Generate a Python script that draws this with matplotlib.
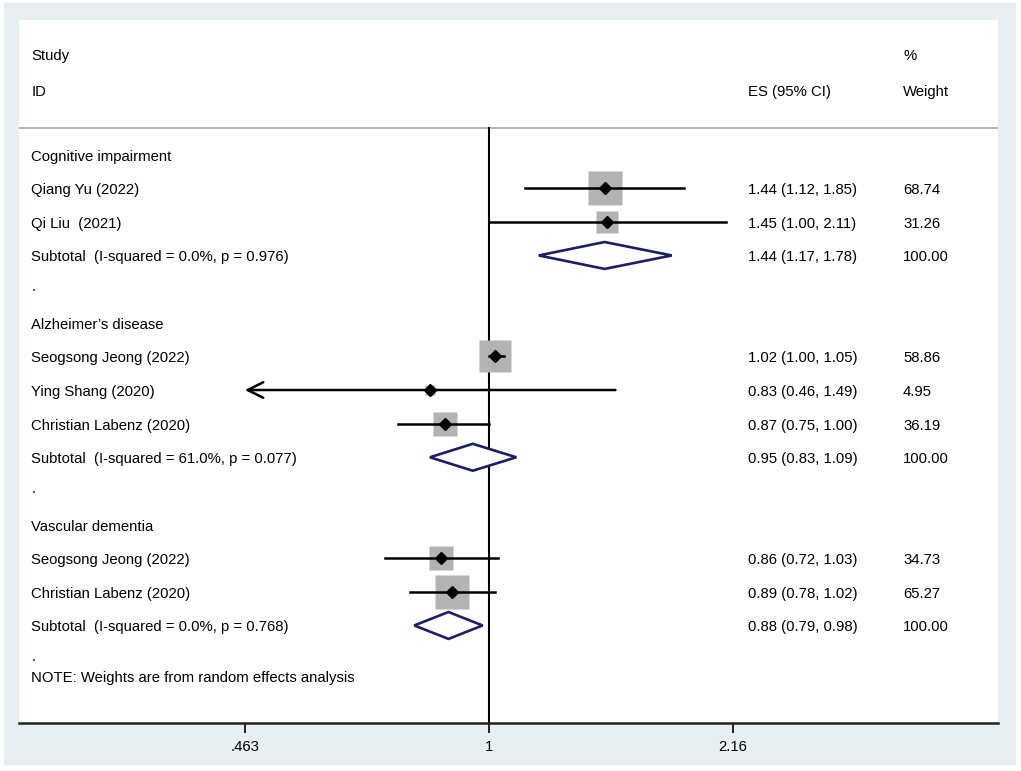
import numpy as np
import matplotlib
matplotlib.use("Agg")
import matplotlib.pyplot as plt
from matplotlib.patches import Polygon, Rectangle

plt.rcParams['font.family'] = ['Liberation Sans', 'DejaVu Sans']

# rows of the forest plot (top to bottom)
labels = ["Cognitive impairment", "Qiang Yu (2022)", "Qi Liu  (2021)",
          "Subtotal  (I-squared = 0.0%, p = 0.976)", ".",
          "Alzheimer\u2019s disease", "Seogsong Jeong (2022)", "Ying Shang (2020)",
          "Christian Labenz (2020)", "Subtotal  (I-squared = 61.0%, p = 0.077)", ".",
          "Vascular dementia", "Seogsong Jeong (2022)", "Christian Labenz (2020)",
          "Subtotal  (I-squared = 0.0%, p = 0.768)", "."]
# kind: h = group header, s = study, t = subtotal, b = blank
kinds = ["h", "s", "s", "t", "b", "h", "s", "s", "s", "t", "b", "h", "s", "s", "t", "b"]
es = [None, 1.44, 1.45, 1.44, None, None, 1.02, 0.83, 0.87, 0.95, None, None, 0.86, 0.89, 0.88, None]
lo = [None, 1.12, 1.00, 1.17, None, None, 1.00, 0.46, 0.75, 0.83, None, None, 0.72, 0.78, 0.79, None]
hi = [None, 1.85, 2.11, 1.78, None, None, 1.05, 1.49, 1.00, 1.09, None, None, 1.03, 1.02, 0.98, None]
weights = [None, 68.74, 31.26, 100.00, None, None, 58.86, 4.95, 36.19, 100.00, None, None, 34.73, 65.27, 100.00, None]

xticks = [0.463, 1, 2.16]
xticklabels = [".463", "1", "2.16"]
note = "NOTE: Weights are from random effects analysis"

fig = plt.figure(figsize=(10.21, 7.71), dpi=100)
fig.patch.set_facecolor("white")
W, H = 1021, 771
# outer light panel
fig.patches.append(Rectangle((4 / W, 1 - 765 / H), 1012 / W, 762 / H,
                             transform=fig.transFigure, facecolor="#e8eff1",
                             edgecolor="none", zorder=-10))

ax = fig.add_axes([19 / W, 1 - 723 / H, 979 / W, 703 / H])
ax.set_zorder(5)
ax.set_facecolor("white")
ax.set_xscale("log")
xmin, xmax = np.exp((19 - 489) / 317.0), np.exp((998 - 489) / 317.0)
ax.set_xlim(xmin, xmax)
ytop, ybot = -4.0, 16.9
ax.set_ylim(ybot, ytop)

fs = 10.7
x_lab = 0.0127
x_es = (748 - 19) / 979
x_w = (903 - 19) / 979
tr = ax.get_yaxis_transform()
dy = 0.06  # small downward nudge of text centres

# header
ax.text(x_lab, -2.98 + dy, "Study", transform=tr, fontsize=fs, va="center")
ax.text(x_lab, -1.93 + dy, "ID", transform=tr, fontsize=fs, va="center")
ax.text(x_es, -1.93 + dy, "ES (95% CI)", transform=tr, fontsize=fs, va="center")
ax.text(x_w, -2.98 + dy, "%", transform=tr, fontsize=fs, va="center")
ax.text(x_w, -1.93 + dy, "Weight", transform=tr, fontsize=fs, va="center")
ax.axhline(-0.8, color="#a8a8a8", lw=1.2, zorder=1)

# null line
ax.plot([1, 1], [-0.8, ybot], color="black", lw=1.5, zorder=2)

for i, (lab, k) in enumerate(zip(labels, kinds)):
    if k == "b":
        ax.text(x_lab, i + 0.05, lab, transform=tr, fontsize=fs, va="baseline")
    else:
        ax.text(x_lab, i + dy, lab, transform=tr, fontsize=fs, va="center")
    if k in ("s", "t"):
        ax.text(x_es, i + dy, "%.2f (%.2f, %.2f)" % (es[i], lo[i], hi[i]),
                transform=tr, fontsize=fs, va="center")
        ax.text(x_w, i + dy, "%.2f" % weights[i], transform=tr, fontsize=fs, va="center")
    if k == "s":
        side = 4.1 * np.sqrt(weights[i]) * 0.72
        ax.plot(es[i], i, marker="s", ms=side, color="#b3b3b3", mec="none", zorder=3)
        if lo[i] < xticks[0]:
            ax.annotate("", xy=(xticks[0], i), xytext=(hi[i], i),
                        arrowprops=dict(arrowstyle="->", lw=1.8, color="black",
                                        mutation_scale=28, shrinkA=0, shrinkB=0),
                        zorder=4)
        else:
            ax.plot([lo[i], hi[i]], [i, i], color="black", lw=1.8, zorder=4)
        ax.plot(es[i], i, marker="D", ms=6.2, color="black", zorder=5)
    elif k == "t":
        d = Polygon([(lo[i], i), (es[i], i - 0.4), (hi[i], i), (es[i], i + 0.4)],
                    closed=True, facecolor="white", edgecolor="#1c1f66", lw=1.9, zorder=4)
        ax.add_patch(d)

ax.text(x_lab, 15.5 + dy, note, transform=tr, fontsize=fs, va="center")

for s in ["top", "right", "left"]:
    ax.spines[s].set_visible(False)
ax.spines["bottom"].set_linewidth(1.8)
ax.spines["bottom"].set_color("#222222")
ax.set_yticks([])
ax.set_xticks(xticks)
ax.set_xticklabels(xticklabels, fontsize=fs)
ax.xaxis.set_minor_locator(matplotlib.ticker.NullLocator())
ax.tick_params(axis="x", direction="out", length=7.5, width=1.2, pad=5)

fig.savefig("out.png", dpi=100)
